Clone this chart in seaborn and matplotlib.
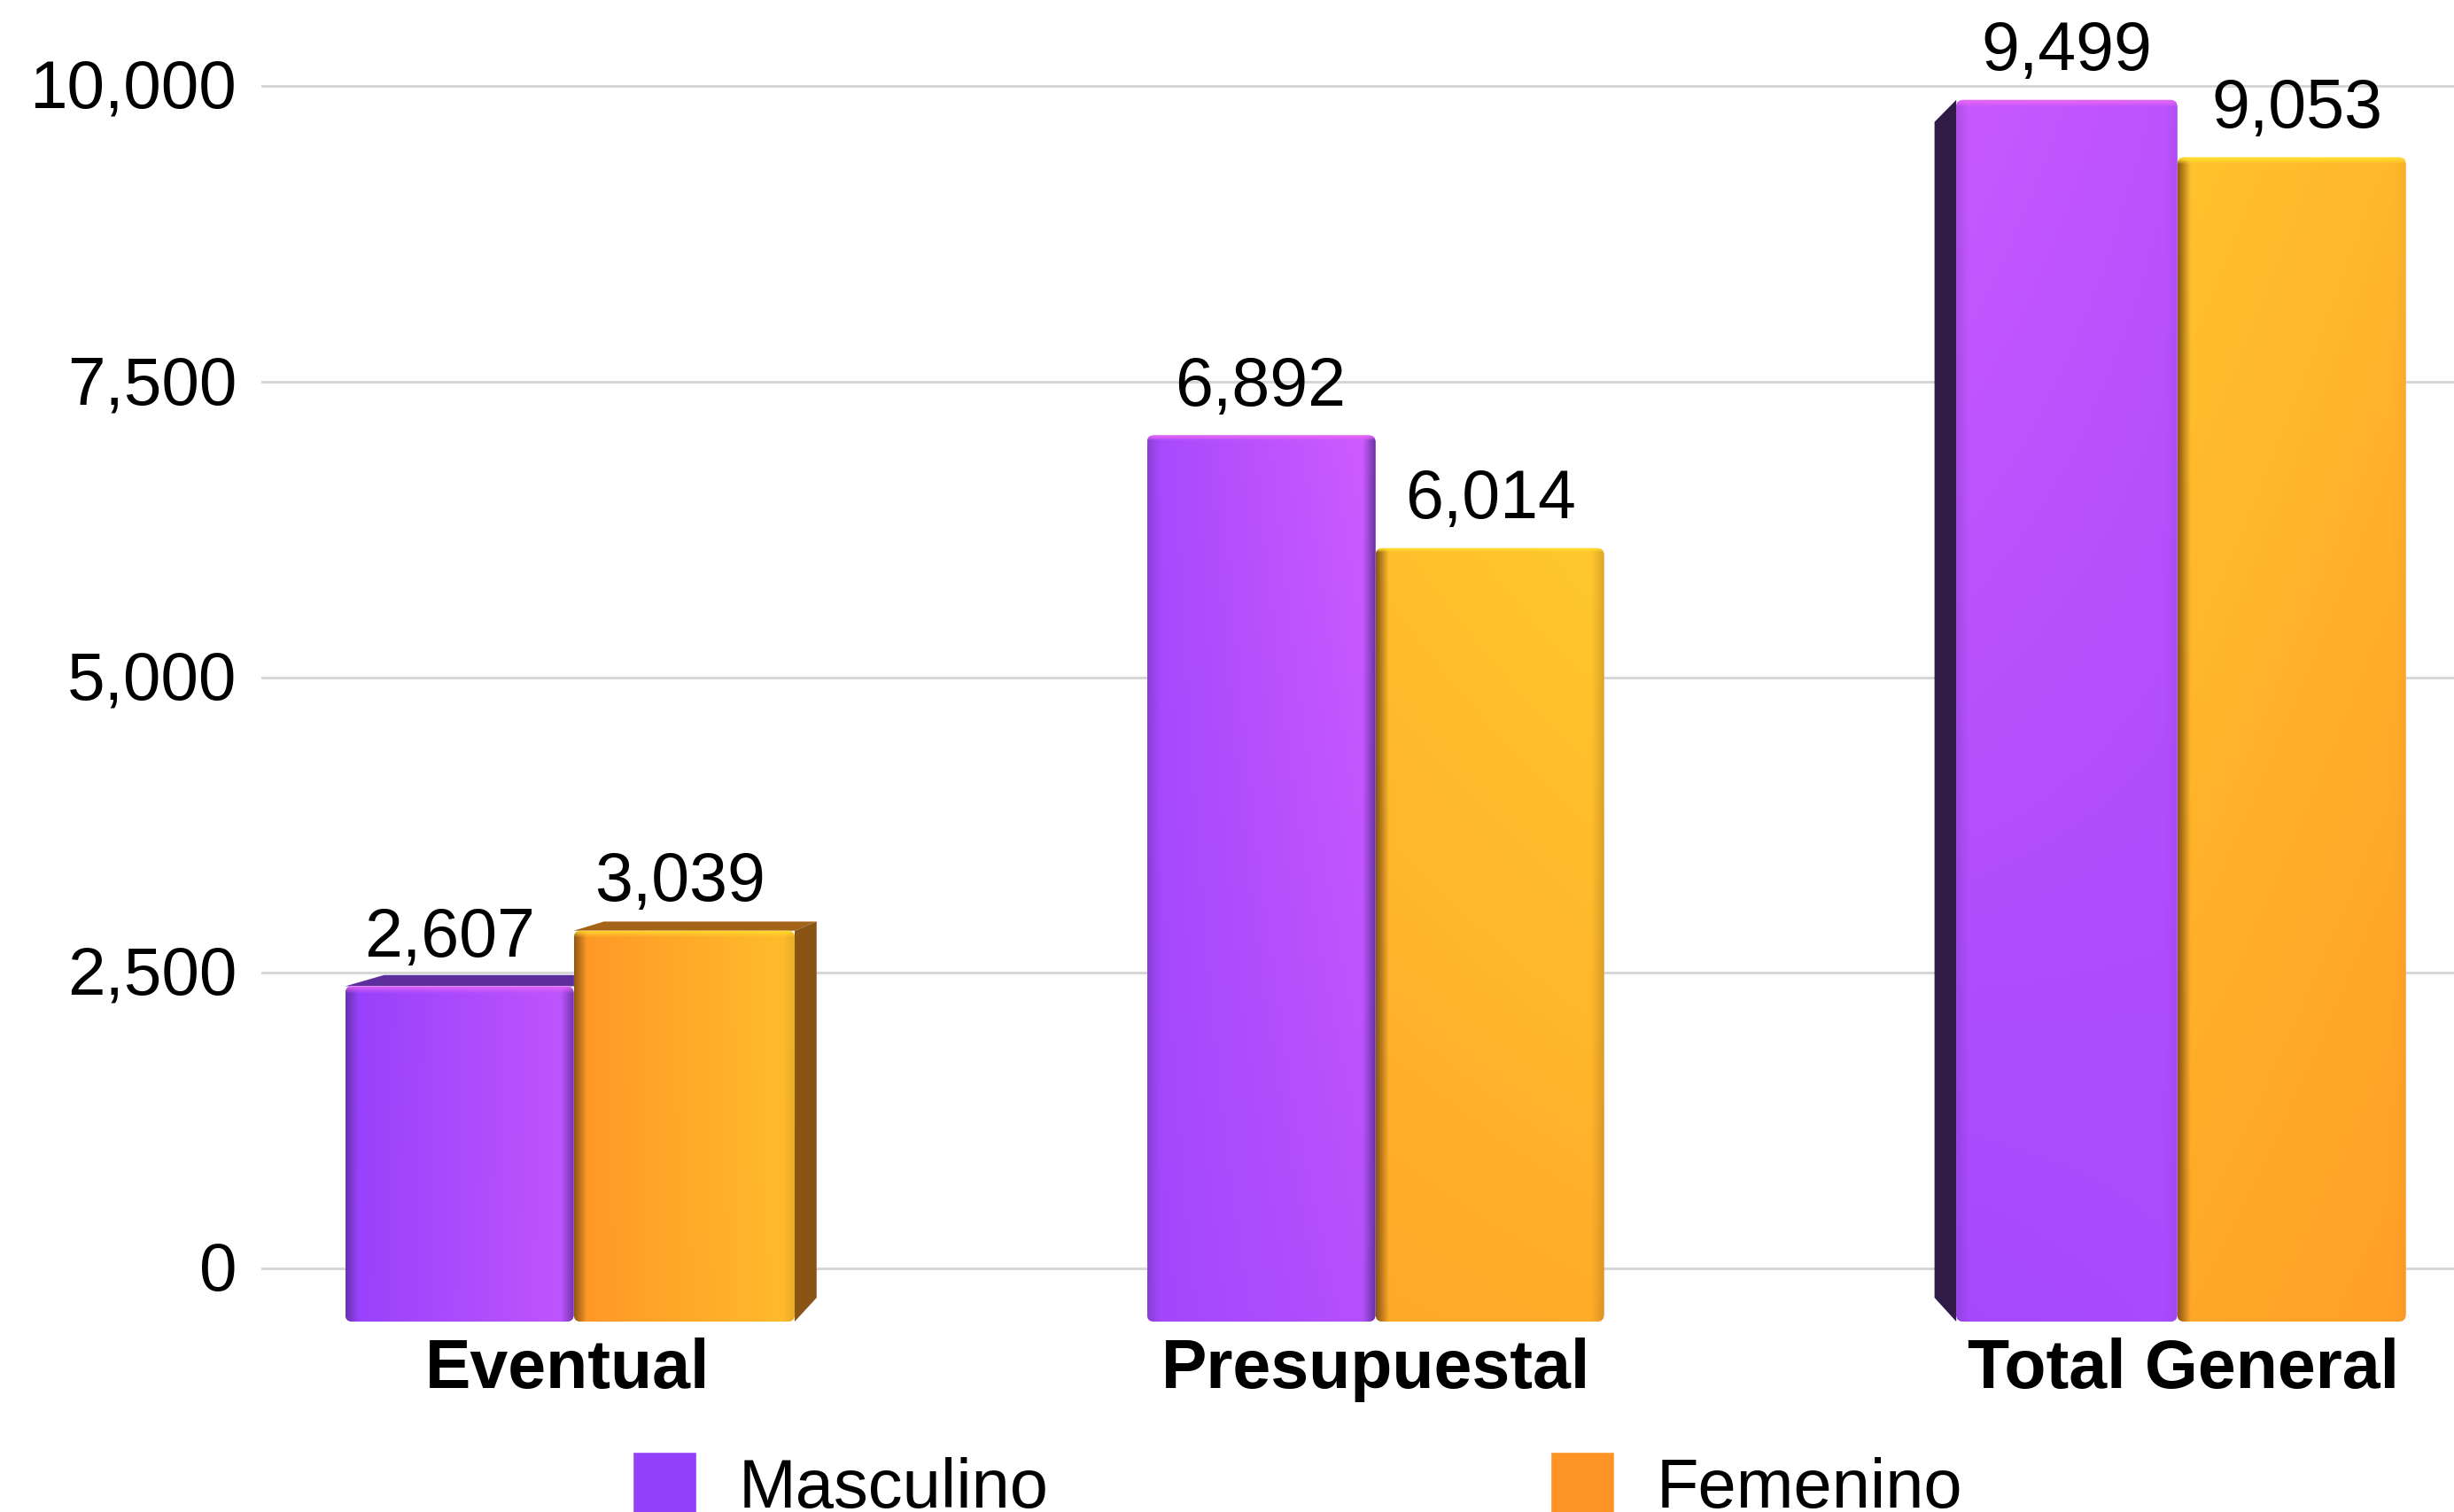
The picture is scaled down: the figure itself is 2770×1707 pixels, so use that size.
import numpy as np
import pandas as pd
import matplotlib
matplotlib.use("Agg")
import matplotlib.pyplot as plt
from matplotlib.colors import to_rgb
from matplotlib.patches import FancyBboxPatch, Polygon
from matplotlib.transforms import IdentityTransform, ScaledTranslation
import seaborn as sns

# --- data -------------------------------------------------------------
categories = ["Eventual", "Presupuestal", "Total General"]
series_names = ["Masculino", "Femenino"]
masculino = [2607, 6892, 9499]
femenino = [3039, 6014, 9053]
y_ticks = [0, 2500, 5000, 7500, 10000]

# --- style ------------------------------------------------------------
W, H = 2770, 1708
FS = 55.5
sns.set_theme(style="white")
plt.rcParams["font.family"] = ["Liberation Sans", "DejaVu Sans"]

PURPLE = ("#9440FB", "#D25EFF", "#E565F5", "#5E2F9C", "#2F1B45", "#5E2F9C", "#5A2E96")
ORANGE = ("#FF9426", "#FFCB2E", "#FFDD2E", "#A5631A", "#5A3B10", "#8A5514", "#7A4A10")
# lighting per bar: t top-left, t top-right, t bottom-left, t bottom-right,
# darkness of left edge, darkness of right edge
LIGHT = {
    (0, 0): (0.02, 0.72, 0.05, 0.72, 0.75, 0.75),
    (0, 1): (0.30, 0.95, 0.22, 0.55, 0.35, 0.85),
    (0, 2): (0.85, 0.62, 0.28, 0.35, 0.25, 0.10),
    (1, 0): (0.05, 0.75, 0.05, 0.72, 0.80, 0.15),
    (1, 1): (0.78, 0.95, 0.38, 0.45, 0.85, 0.25),
    (1, 2): (0.85, 0.62, 0.38, 0.20, 0.85, 0.05),
}
VP_PX = (1555.0, H - 777.0)   # vanishing point of the extrusion
DEPTH = 0.0376
TRIM = 8.5
CAT_SHIFT_PX = [-7, 0, 7]

fig = plt.figure(figsize=(W / 100, H / 100), dpi=100, facecolor="white")

# back plane: the gridlines and value axis
left = 295 / W
ax_back = fig.add_axes([left, 0, 1 - left, 1])
ax_back.set_ylim(-(H - 1433) / 0.1335, 1433 / 0.1335)
ax_back.set_xlim(0, 1)
ax_back.set_yticks(y_ticks)
ax_back.set_yticklabels([f"{v:,}" for v in y_ticks], fontsize=55, color="black")
ax_back.tick_params(axis="y", length=0, pad=20)
ax_back.set_xticks([])
ax_back.grid(axis="y", color="#D6D6D6", lw=2.1)
ax_back.set_axisbelow(True)
sns.despine(ax=ax_back, left=True, bottom=True)
for lab in ax_back.get_yticklabels():
    lab.set_transform(lab.get_transform() + ScaledTranslation(0, 3.0 / 100, fig.dpi_scale_trans))

# front plane: the bars, nearer the viewer so on a slightly larger scale
base_px = 1493
ax = fig.add_axes([left, (H - base_px) / H, 1 - left, base_px / H])
ax.patch.set_alpha(0)

df = pd.DataFrame({
    "tipo": categories * 2,
    "sexo": [series_names[0]] * 3 + [series_names[1]] * 3,
    "valor": masculino + femenino,
})
sns.barplot(data=df, x="tipo", y="valor", hue="sexo", order=categories,
            hue_order=series_names, palette=[PURPLE[0], ORANGE[0]],
            width=0.57, gap=0, saturation=1, ax=ax)
xlim = ((295 - 647.6) / 905, (W - 647.6) / 905)
ylim = (0, base_px / 0.1452)
ax.set_xlim(*xlim)
ax.set_ylim(*ylim)
ax.set_xlabel("")
ax.set_ylabel("")
ax.set_yticks([])
ax.tick_params(axis="x", length=0, pad=12)
for lab, dx in zip(ax.get_xticklabels(), CAT_SHIFT_PX):
    lab.set_fontsize(FS)
    lab.set_fontweight("bold")
    lab.set_color("black")
    lab.set_transform(lab.get_transform() + ScaledTranslation(dx / 100, 0, fig.dpi_scale_trans))
sns.despine(ax=ax, left=True, bottom=True)
ax.grid(False)


def shade(style, light):
    tl, tr, bl, br, el, er = light
    ny, nx = 240, 150
    xs = np.linspace(0, 1, nx)
    ys = np.linspace(0, 1, ny)      # 0 bottom, 1 top
    X, Y = np.meshgrid(xs, ys)
    t = (1 - Y) * ((1 - X) * bl + X * br) + Y * ((1 - X) * tl + X * tr)
    dark, bright = np.array(to_rgb(style[0])), np.array(to_rgb(style[1]))
    img = dark + (bright - dark) * t[..., None]
    edge = np.array(to_rgb(style[6]))
    el_w = np.clip(1 - X / 0.055, 0, 1)[..., None] * el
    er_w = np.clip(1 - (1 - X) / 0.055, 0, 1)[..., None] * er
    img = img * (1 - el_w) + edge * el_w
    img = img * (1 - er_w) + edge * er_w
    return img


def highlight(img, style, height_px):
    n = img.shape[0]
    m = max(1, int(round(n * 9 / height_px)))
    ramp = np.linspace(0, 0.9, m)[..., None, None]
    img[-m:] = img[-m:] * (1 - ramp) + np.array(to_rgb(style[2])) * ramp
    return img


to_px = ax.transData.transform
to_data = ax.transData.inverted().transform
identity = IdentityTransform()


def back(p):
    return (p[0] + (VP_PX[0] - p[0]) * DEPTH, p[1] + (VP_PX[1] - p[1]) * DEPTH)


for s, container in enumerate(ax.containers):
    style = PURPLE if s == 0 else ORANGE
    labels = ax.bar_label(container, fmt="{:,.0f}", padding=13.5, fontsize=FS, color="black")
    for c, (bar, lbl) in enumerate(zip(container, labels)):
        x0, w = bar.get_x(), bar.get_width()
        h = bar.get_height()
        (px0, py0), (px1, py1) = to_px([(x0, 0), (x0 + w, h)])
        cx = (px0 + px1) / 2
        # an outer side turned to the viewer eats into the front face's footprint;
        # the inner sides stay hidden behind the neighbouring bar
        show_left = s == 0 and back((px0, py0))[0] < px0
        show_right = s == 1 and back((px1, py0))[0] > px1
        if show_left:
            px0 += TRIM
        if show_right:
            px1 -= TRIM
        bl, br, tl, tr = (px0, py0), (px1, py0), (px0, py1), (px1, py1)
        bbl, bbr, btl, btr = back(bl), back(br), back(tl), back(tr)
        # extruded faces, only those turned towards the viewer
        if btl[1] > tl[1]:
            ax.add_patch(Polygon([tl, btl, btr, tr], closed=True, transform=identity,
                                 fc=style[3], ec="none", zorder=3))
        if show_left:
            ax.add_patch(Polygon([tl, btl, bbl, bl], closed=True, transform=identity,
                                 fc=style[4], ec="none", zorder=3))
        if show_right:
            ax.add_patch(Polygon([tr, btr, bbr, br], closed=True, transform=identity,
                                 fc=style[5], ec="none", zorder=3))
        # front face
        clip = FancyBboxPatch((px0, py0), px1 - px0, py1 - py0,
                              boxstyle="round,pad=0,rounding_size=8", transform=identity)
        bar.set_clip_path(clip.get_path(), identity)
        bar.set_zorder(4)
        img = highlight(shade(style, LIGHT[(s, c)]), style, py1 - py0)
        dx0 = to_data((px0, py0))[0]
        dx1 = to_data((px1, py0))[0]
        im = ax.imshow(img, extent=(dx0, dx1, 0, h), origin="lower", aspect="auto",
                       interpolation="bilinear", zorder=5)
        im.set_clip_path(clip.get_path(), identity)
        # labels sit on the flat plane of the chart, a touch off the bar centre
        k = 0.011 if cx < VP_PX[0] else 0.006
        lbl.xyann = (lbl.xyann[0] + (cx - VP_PX[0]) * k * 0.72, lbl.xyann[1])

ax.set_xlim(*xlim)
ax.set_ylim(*ylim)

sns.move_legend(ax, "lower left", bbox_to_anchor=(714 / W, -10 / H), bbox_transform=fig.transFigure,
                ncol=2, frameon=False, title=None, fontsize=56, borderaxespad=0, borderpad=0,
                handlelength=0.93, handleheight=1.02, handletextpad=0.61, columnspacing=7.28)
for t in ax.get_legend().get_texts():
    t.set_color("black")

fig.savefig("out.png", dpi=100, facecolor="white")
